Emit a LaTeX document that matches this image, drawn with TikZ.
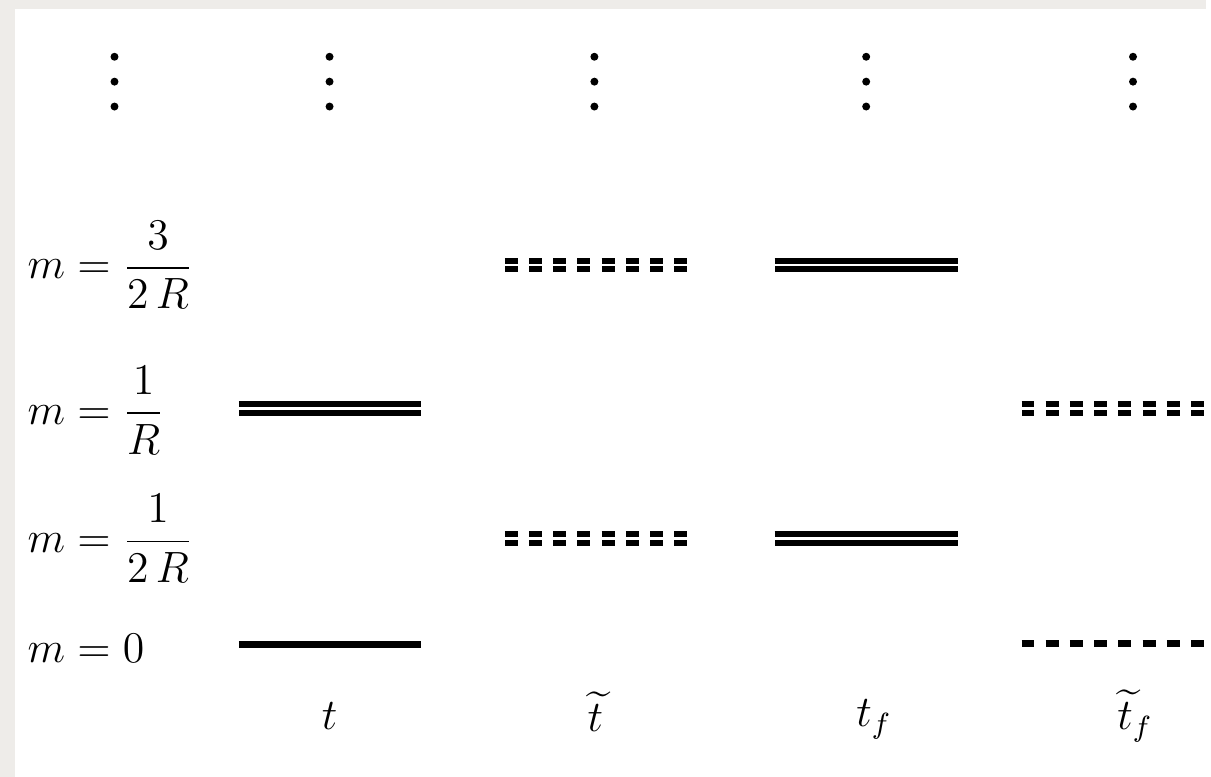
\documentclass[12pt,tikz,border=0pt]{standalone}
\usepackage{amsmath,amssymb}
\usepackage{xcolor}
\definecolor{bordergray}{RGB}{238,236,233}

\begin{document}
\begin{tikzpicture}[x=0.3pt, y=-0.3pt,
    lbl/.style={scale=1.1, transform shape},
    lvl/.style={line width=2.1pt},
    dlvl/.style={double, line width=1.8pt, double distance=0.8pt},
    dashlvl/.style={dash pattern=on 3.9pt off 3.4pt},
    dot/.style={circle, fill, inner sep=0pt, minimum size=2.4pt},
    mass/.style={lbl, anchor=west, inner sep=0pt}]
    \fill[bordergray] (0,0) rectangle (1211,780);
    \fill[white] (15,9) rectangle (1211,780);
    % vertical dots above each column
    \foreach \x/\c in {115/a, 331/b, 597/c, 870/d, 1138/e} {
        \foreach \y [count=\i] in {57,82,107}
            \node[dot] (\c\i) at (\x,\y) {};
    }
    % masses
    \node[mass] (m3) at (27,266) {$m=\dfrac{3}{2\,R}$};
    \node[mass] (m2) at (27,412) {$m=\dfrac{1}{R}$};
    \node[mass] (m1) at (27,541) {$m=\dfrac{1}{2\,R}$};
    \node[mass] (m0) at (27,651) {$m=0$};
    % columns
    \node[lbl, anchor=base] (t) at (331,733) {$t$};
    \node[lbl, anchor=base] (tt) at (598,735) {$\widetilde{t}$};
    \node[lbl, anchor=base] (tf) at (878,730) {$t_f$};
    \node[lbl, anchor=base] (ttf) at (1140,733) {$\widetilde{t}_f$};
    % levels
    \draw[dlvl, dashlvl] (507,266) -- (690,266);
    \draw[dlvl] (778,266) -- (962,266);
    \draw[dlvl] (240,410) -- (423,410);
    \draw[dlvl, dashlvl] (1026,410) -- (1209,410);
    \draw[dlvl, dashlvl] (507,541) -- (690,541);
    \draw[dlvl] (778,541) -- (962,541);
    \draw[lvl] (240,647) -- (423,647);
    \draw[lvl, dashlvl] (1026,646) -- (1209,646);
\end{tikzpicture}
\end{document}
